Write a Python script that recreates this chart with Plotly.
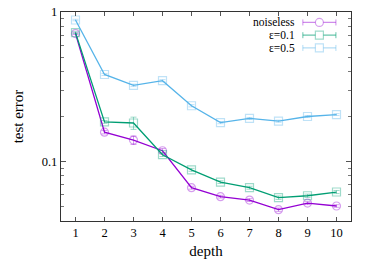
import plotly.graph_objects as go

depth = [1, 2, 3, 4, 5, 6, 7, 8, 9, 10]
noiseless = [0.717, 0.157, 0.139, 0.118, 0.0668, 0.0582, 0.0552, 0.0476, 0.0527, 0.0504]
noiseless_err = [0.01, 0.004, 0.009, 0.004, 0.0015, 0.0012, 0.0012, 0.0012, 0.0012, 0.001]
eps01 = [0.728, 0.184, 0.181, 0.111, 0.088, 0.0728, 0.0668, 0.0573, 0.059, 0.0625]
eps01_err = [0.01, 0.004, 0.017, 0.003, 0.002, 0.0015, 0.0015, 0.0015, 0.0015, 0.0015]
eps05 = [0.884, 0.382, 0.323, 0.347, 0.236, 0.182, 0.194, 0.186, 0.2, 0.206]
eps05_err = [0.01, 0.006, 0.006, 0.006, 0.004, 0.003, 0.003, 0.003, 0.003, 0.003]

names = ["noiseless", "ε=0.1", "ε=0.5"]
colors = ["#9400d3", "#009e73", "#56b4e9"]
light = ["rgba(148,0,211,0.38)", "rgba(0,158,115,0.38)", "rgba(86,180,233,0.38)"]
legend_line = ["rgba(148,0,211,0.45)", "rgba(0,158,115,0.6)", "rgba(86,180,233,0.45)"]
symbols = ["circle-open", "square-open", "square-open"]

FONT = "'Liberation Serif', 'Times New Roman', Times, serif"

fig = go.Figure()
for y, e, n, c, lc, s in zip([noiseless, eps01, eps05], [noiseless_err, eps01_err, eps05_err],
                             names, colors, light, symbols):
    fig.add_trace(go.Scatter(
        x=depth, y=y, name=n, mode="lines+markers",
        line=dict(color=c, width=1.3),
        marker=dict(symbol=s, size=8, color=lc, line=dict(color=lc, width=1.2)),
        error_y=dict(type="data", array=e, visible=True, color=lc, thickness=1, width=3),
    ))

minor_vals = [0.05, 0.06, 0.07, 0.08, 0.09, 0.2, 0.3, 0.4, 0.5, 0.6, 0.7, 0.8, 0.9]

fig.update_layout(
    width=374, height=262,
    margin=dict(l=61, r=23, t=12, b=41, autoexpand=False),
    paper_bgcolor="white", plot_bgcolor="white",
    showlegend=False,
    font=dict(family=FONT, size=12.5, color="black"),
    xaxis=dict(
        range=[0.5, 10.5], tickvals=depth, ticks="inside", ticklen=4,
        tickcolor="#555", showline=True, linecolor="#333", linewidth=1.3,
        mirror="ticks", showgrid=False, zeroline=False, automargin=False,
        title=dict(text="depth", standoff=6),
    ),
    yaxis=dict(
        type="log", range=[-1.398, 0], tickvals=[0.1, 1], ticktext=["0.1", "1"],
        ticks="inside", ticklen=5, tickcolor="#555",
        minor=dict(tickvals=minor_vals, ticks="inside", ticklen=3, tickcolor="#777"),
        showline=True, linecolor="#333", linewidth=1.3, mirror="ticks",
        showgrid=False, zeroline=False, automargin=False,
        title=dict(text="test error", standoff=14),
    ),
)

# legend drawn manually (text right-aligned, sample to the right)
rows_y = [0.950, 0.889, 0.828]
x_text, x0, x1, xm = 0.809, 0.834, 0.948, 0.891
for i, (n, c, lc, ll, ry) in enumerate(zip(names, colors, light, legend_line, rows_y)):
    fig.add_annotation(x=x_text, y=ry, xref="paper", yref="paper", text=n,
                       showarrow=False, xanchor="right", yanchor="middle",
                       borderpad=0,
                       font=dict(family=FONT, size=11.5, color="black"))
    fig.add_shape(type="line", xref="paper", yref="paper", x0=x0, x1=x1, y0=ry, y1=ry,
                  line=dict(color=ll, width=1.2))
    for xe in (x0, x1):
        fig.add_shape(type="line", xref="paper", yref="paper", xsizemode="pixel",
                      ysizemode="pixel", xanchor=xe, yanchor=ry, x0=0, x1=0, y0=-3, y1=3,
                      line=dict(color=ll, width=1))
    fig.add_shape(type="circle" if i == 0 else "rect", xref="paper", yref="paper",
                  xsizemode="pixel", ysizemode="pixel", xanchor=xm, yanchor=ry,
                  x0=-4, x1=4, y0=-4, y1=4, fillcolor="white",
                  line=dict(color=lc, width=1.2))

fig.write_html("out.html", config={"displayModeBar": False},
               post_script="document.body.style.margin='0';document.body.style.padding='0';")
